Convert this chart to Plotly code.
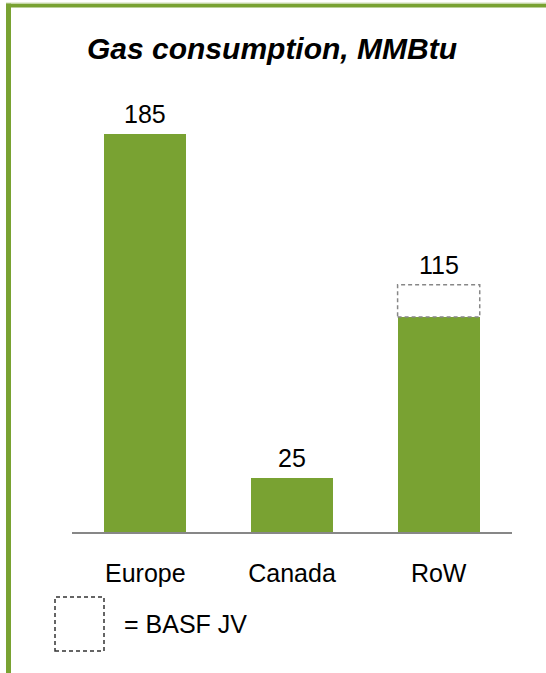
import plotly.graph_objects as go

categories = ["Europe", "Canada", "RoW"]
owned = [185, 25, 100]      # solid green part
jv = [0, 0, 15]             # BASF JV part (dashed outline)
totals = [o + j for o, j in zip(owned, jv)]
title_text = "Gas consumption, MMBtu"
legend_text = "= BASF JV"

GREEN = "#79A232"
GRAY = "#878787"
W, H = 546, 673
L, R, T, B = 72, 34, 102, 141
PW, PH = W - L - R, H - T - B
BAR_W = 0.56
YMAX = 200
FONT = "Arial, Liberation Sans, sans-serif"

def px_x(x):
    return (x - L) / PW

def px_y(y):
    return (H - B - y) / PH

fig = go.Figure()
fig.add_trace(go.Bar(x=categories, y=owned, width=BAR_W, marker=dict(color=GREEN, line=dict(width=0)),
                     showlegend=False, hoverinfo="skip"))
fig.add_trace(go.Bar(x=categories, y=jv, width=BAR_W, marker=dict(color="rgba(0,0,0,0)", line=dict(width=0)),
                     showlegend=False, hoverinfo="skip"))

shapes = []
for i, (o, j) in enumerate(zip(owned, jv)):
    if j > 0:
        shapes.append(dict(type="rect", xref="x", yref="y", x0=i - BAR_W / 2, x1=i + BAR_W / 2,
                           y0=o, y1=o + j, line=dict(color=GRAY, width=1.5, dash="4px,3px"),
                           fillcolor="rgba(0,0,0,0)"))

# legend swatch
shapes.append(dict(type="rect", xref="paper", yref="paper", x0=px_x(55), x1=px_x(104),
                   y0=px_y(651), y1=px_y(597), line=dict(color="#333333", width=1.5, dash="4px,3px")))
# green frame (left and top)
shapes.append(dict(type="rect", xref="paper", yref="paper", x0=px_x(6), x1=px_x(11),
                   y0=px_y(H + 2), y1=px_y(3), fillcolor=GREEN, line=dict(width=0), layer="below"))
shapes.append(dict(type="rect", xref="paper", yref="paper", x0=px_x(6), x1=px_x(W + 2),
                   y0=px_y(7.5), y1=px_y(3.5), fillcolor=GREEN, line=dict(width=0), layer="below"))
shapes.append(dict(type="rect", xref="paper", yref="paper", x0=px_x(6), x1=px_x(W + 2),
                   y0=px_y(3.5), y1=px_y(2.5), fillcolor="#CFDDB5", line=dict(width=0), layer="below"))

annotations = []
for c, t in zip(categories, totals):
    annotations.append(dict(x=c, y=t, xref="x", yref="y", text=str(t), showarrow=False,
                            yanchor="bottom", yshift=4, font=dict(family=FONT, size=25, color="#000000")))
annotations.append(dict(x=px_x(272), y=px_y(48), xref="paper", yref="paper", text="<b><i>" + title_text + "</i></b>",
                        showarrow=False, xanchor="center", yanchor="middle",
                        font=dict(family=FONT, size=30, color="#000000")))
annotations.append(dict(x=px_x(122), y=px_y(624), xref="paper", yref="paper", text=legend_text,
                        showarrow=False, xanchor="left", yanchor="middle",
                        font=dict(family=FONT, size=25, color="#000000")))

fig.update_layout(
    width=W, height=H, margin=dict(l=L, r=R, t=T, b=B),
    barmode="stack", bargap=0,
    plot_bgcolor="white", paper_bgcolor="white",
    shapes=shapes, annotations=annotations,
    xaxis=dict(showline=True, linecolor=GRAY, linewidth=2, showgrid=False, zeroline=False,
               ticks="", ticklabelstandoff=18,
               tickfont=dict(family=FONT, size=25, color="#000000"), fixedrange=True),
    yaxis=dict(range=[0, YMAX], visible=False, showgrid=False, zeroline=False, fixedrange=True),
)

fig.write_html("out.html", config={"displayModeBar": False})
